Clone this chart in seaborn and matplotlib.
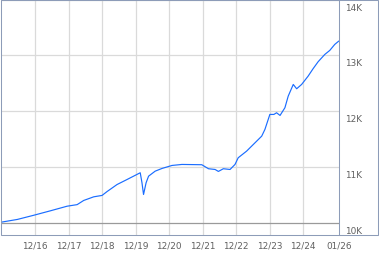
import matplotlib
matplotlib.use("Agg")
import matplotlib.pyplot as plt
import matplotlib.transforms as mtransforms
from matplotlib.patches import Rectangle
import seaborn as sns
import pandas as pd

# ---- data ----
dates = [
    "2015-11-25", "2016-05-22", "2016-11-17", "2017-05-18", "2017-11-15",
    "2018-03-04", "2018-05-15", "2018-09-01", "2018-12-01", "2019-01-25",
    "2019-05-13", "2019-08-30", "2020-01-21", "2020-02-09", "2020-02-26",
    "2020-03-25", "2020-04-21", "2020-07-02", "2020-09-14", "2021-01-01",
    "2021-04-19", "2021-11-22", "2022-02-03", "2022-04-16", "2022-05-22",
    "2022-07-15", "2022-09-26", "2022-11-19", "2022-12-24", "2023-03-25",
    "2023-09-06", "2023-10-11", "2023-12-04", "2024-01-17", "2024-02-15",
    "2024-03-24", "2024-05-16", "2024-06-21", "2024-08-15", "2024-09-21",
    "2024-11-14", "2025-01-24", "2025-03-19", "2025-05-13", "2025-07-25",
    "2025-09-17", "2025-11-10", "2025-12-24",
]
values = [
    10010, 10060, 10135, 10215, 10297,
    10325, 10400, 10465, 10490, 10560,
    10685, 10775, 10896, 10717, 10507,
    10717, 10835, 10925, 10973, 11027,
    11045, 11040, 10968, 10955, 10920,
    10968, 10955, 11045, 11165, 11283,
    11552, 11672, 11941, 11941, 11971,
    11923, 12061, 12269, 12478, 12401,
    12478, 12627, 12760, 12885, 13016,
    13088, 13195, 13255,
]
x_tick_dates = ["2016-12-01", "2017-12-01", "2018-12-01", "2019-12-01",
                "2020-12-01", "2021-12-01", "2022-12-01", "2023-12-01",
                "2024-12-01", "2026-01-01"]
x_tick_labels = ["12/16", "12/17", "12/18", "12/19", "12/20",
                 "12/21", "12/22", "12/23", "12/24", "01/26"]
y_ticks = [10000, 11000, 12000, 13000, 14000]
y_tick_labels = ["10K", "11K", "12K", "13K", "14K"]

df = pd.DataFrame({"date": pd.to_datetime(dates), "value": values})

sns.set_style("white")
plt.rcParams["font.family"] = ["DejaVu Sans"]

BORDER = "#8d9cb8"
GRID = "#dadada"
TEXT = "#606060"
LINE = "#1a6dff"

W, H = 379, 255
fig = plt.figure(figsize=(W / 100, H / 100), dpi=100)
fig.patch.set_facecolor("white")

left_px, right_px, top_px, bottom_px = 0.5, 339.5, 0.5, 235.5
ax = fig.add_axes([left_px / W, (H - bottom_px) / H,
                   (right_px - left_px) / W, (bottom_px - top_px) / H])
ax.set_facecolor("white")

sns.lineplot(data=df, x="date", y="value", ax=ax, color=LINE,
             linewidth=0.85, zorder=3)

ax.set_xlim(pd.Timestamp("2015-11-20"), pd.Timestamp("2026-01-01"))
ax.set_ylim(9790, 14000)

# vertical grid
xt = pd.to_datetime(x_tick_dates)
for d in xt:
    ax.axvline(d, color=GRID, lw=0.9, zorder=1)
# horizontal grid
for v in y_ticks:
    if v == y_ticks[0]:
        ax.axhline(v, color="#9a9a9a", lw=0.9, zorder=2)
    else:
        ax.axhline(v, color=GRID, lw=0.9, zorder=1)

ax.set_xticks(xt)
ax.set_xticklabels(x_tick_labels)
ax.tick_params(axis="x", length=0, pad=4.0, labelsize=6.4, colors=TEXT)
ax.set_yticks([])
ax.set_xlabel("")
ax.set_ylabel("")

# right-side y labels, placed just below each gridline
base = mtransforms.blended_transform_factory(ax.transAxes, ax.transData)
for v, lab in zip(y_ticks, y_tick_labels):
    tr = mtransforms.offset_copy(base, fig=fig, x=6, y=-3.0, units="dots")
    ax.text(1.0, v, lab, transform=tr, ha="left", va="top",
            fontsize=6.4, color=TEXT, clip_on=False)

for s in ["left", "top", "bottom"]:
    ax.spines[s].set_visible(False)
ax.spines["right"].set_color(BORDER)
ax.spines["right"].set_linewidth(0.75)

# outer frame
fig.patches.append(Rectangle((0.5 / W, (H - 235.5) / H), 377.5 / W, 235.0 / H,
                             transform=fig.transFigure, fill=False,
                             edgecolor=BORDER, linewidth=0.75))

fig.savefig("out.png", dpi=100)
